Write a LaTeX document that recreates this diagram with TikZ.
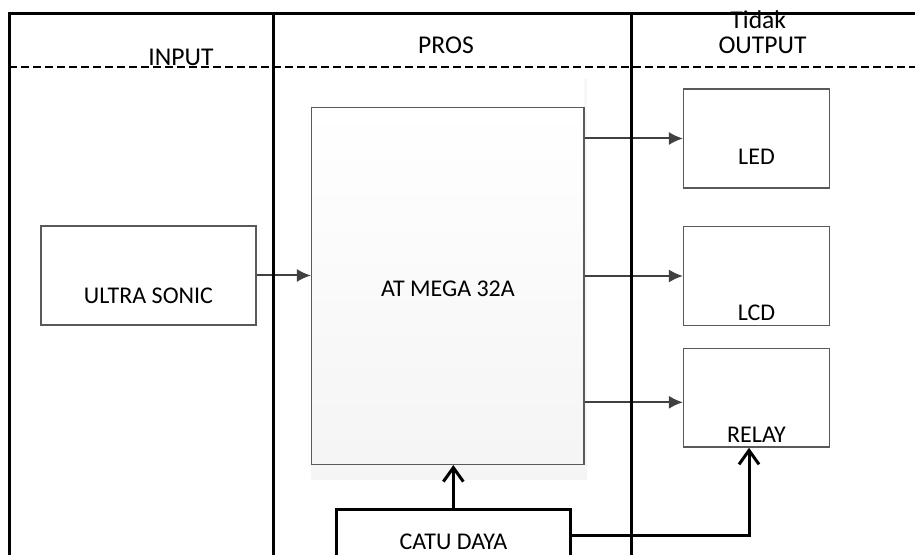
\documentclass[tikz,border=0pt]{standalone}
\usepackage{fontspec}
\setmainfont{Carlito}
\usetikzlibrary{arrows.meta}

\tikzset{
  blok/.style={draw=black!65, line width=0.75pt, fill=white, inner sep=0pt, font=\fontsize{12}{14}\selectfont},
  judul/.style={anchor=base, inner sep=0pt, font=\fontsize{12.8}{15}\selectfont},
  sinyal/.style={draw=black!75, line width=1pt, -{Latex[length=7pt,width=6.5pt]}},
  daya/.style={draw=black, line width=1.5pt, -{Straight Barb[length=7pt,width=10pt]}},
  lajur/.style={draw=black, line width=1.5pt},
}

\begin{document}
\begin{tikzpicture}[x=0.5pt,y=-0.5pt]
\useasboundingbox (0,0) rectangle (915,555);

\fill[black!4] (311,464) rectangle (587,480);
\fill[black!3] (584,79) rectangle (587,464);

\node[blok, minimum width=107.5pt, text height=39pt, text depth=10.5pt] (us) at (148.5,275.5) {ULTRA SONIC};
\node[blok, top color=white, bottom color=black!4, minimum width=136.2pt, text height=94.7pt, text depth=83.8pt] (atm) at (447.9,285.8) {AT MEGA 32A};
\node[blok, minimum width=72.8pt, text height=38pt, text depth=11.5pt] (led) at (756.5,138.5) {LED};
\node[blok, minimum width=72.8pt, text height=47pt, text depth=2.3pt] (lcd) at (756.5,276) {LCD};
\node[blok, minimum width=72.8pt, text height=47.2pt, text depth=2.15pt] (relay) at (756.5,397.7) {RELAY};
\node[blok, draw=black, line width=1.5pt, minimum width=117.35pt, text height=20pt, text depth=6pt] (catu) at (453.35,535) {CATU DAYA};

\coordinate (relayin) at ([yshift=-2.3pt]relay.west);
\coordinate (relayp) at ([xshift=-3.75pt]relay.south);

\draw[sinyal] (us.east) -- (us.east -| atm.west);
\draw[sinyal] (led.west -| atm.east) -- (led.west);
\draw[sinyal] (lcd.west -| atm.east) -- (lcd.west);
\draw[sinyal] (relayin -| atm.east) -- (relayin);

\draw[daya] (catu.north) -- (catu.north |- atm.south);
\draw[daya] (catu.east) -| (relayp);

\draw[lajur] (9,555) -- (9,14) -- (915,14);
\draw[lajur] (273,14) -- (273,555);
\draw[lajur] (631,14) -- (631,555);
\draw[line width=1pt, dash pattern=on 4pt off 2pt] (9,67) -- (915,67);

\node[judul] (input) at (181,66) {INPUT};
\node[judul] (pros) at (446,53.3) {PROS};
\node[judul] (tidak) at (758.3,28.3) {Tidak};
\node[judul] (output) at (762.5,53.3) {OUTPUT};

\end{tikzpicture}
\end{document}
